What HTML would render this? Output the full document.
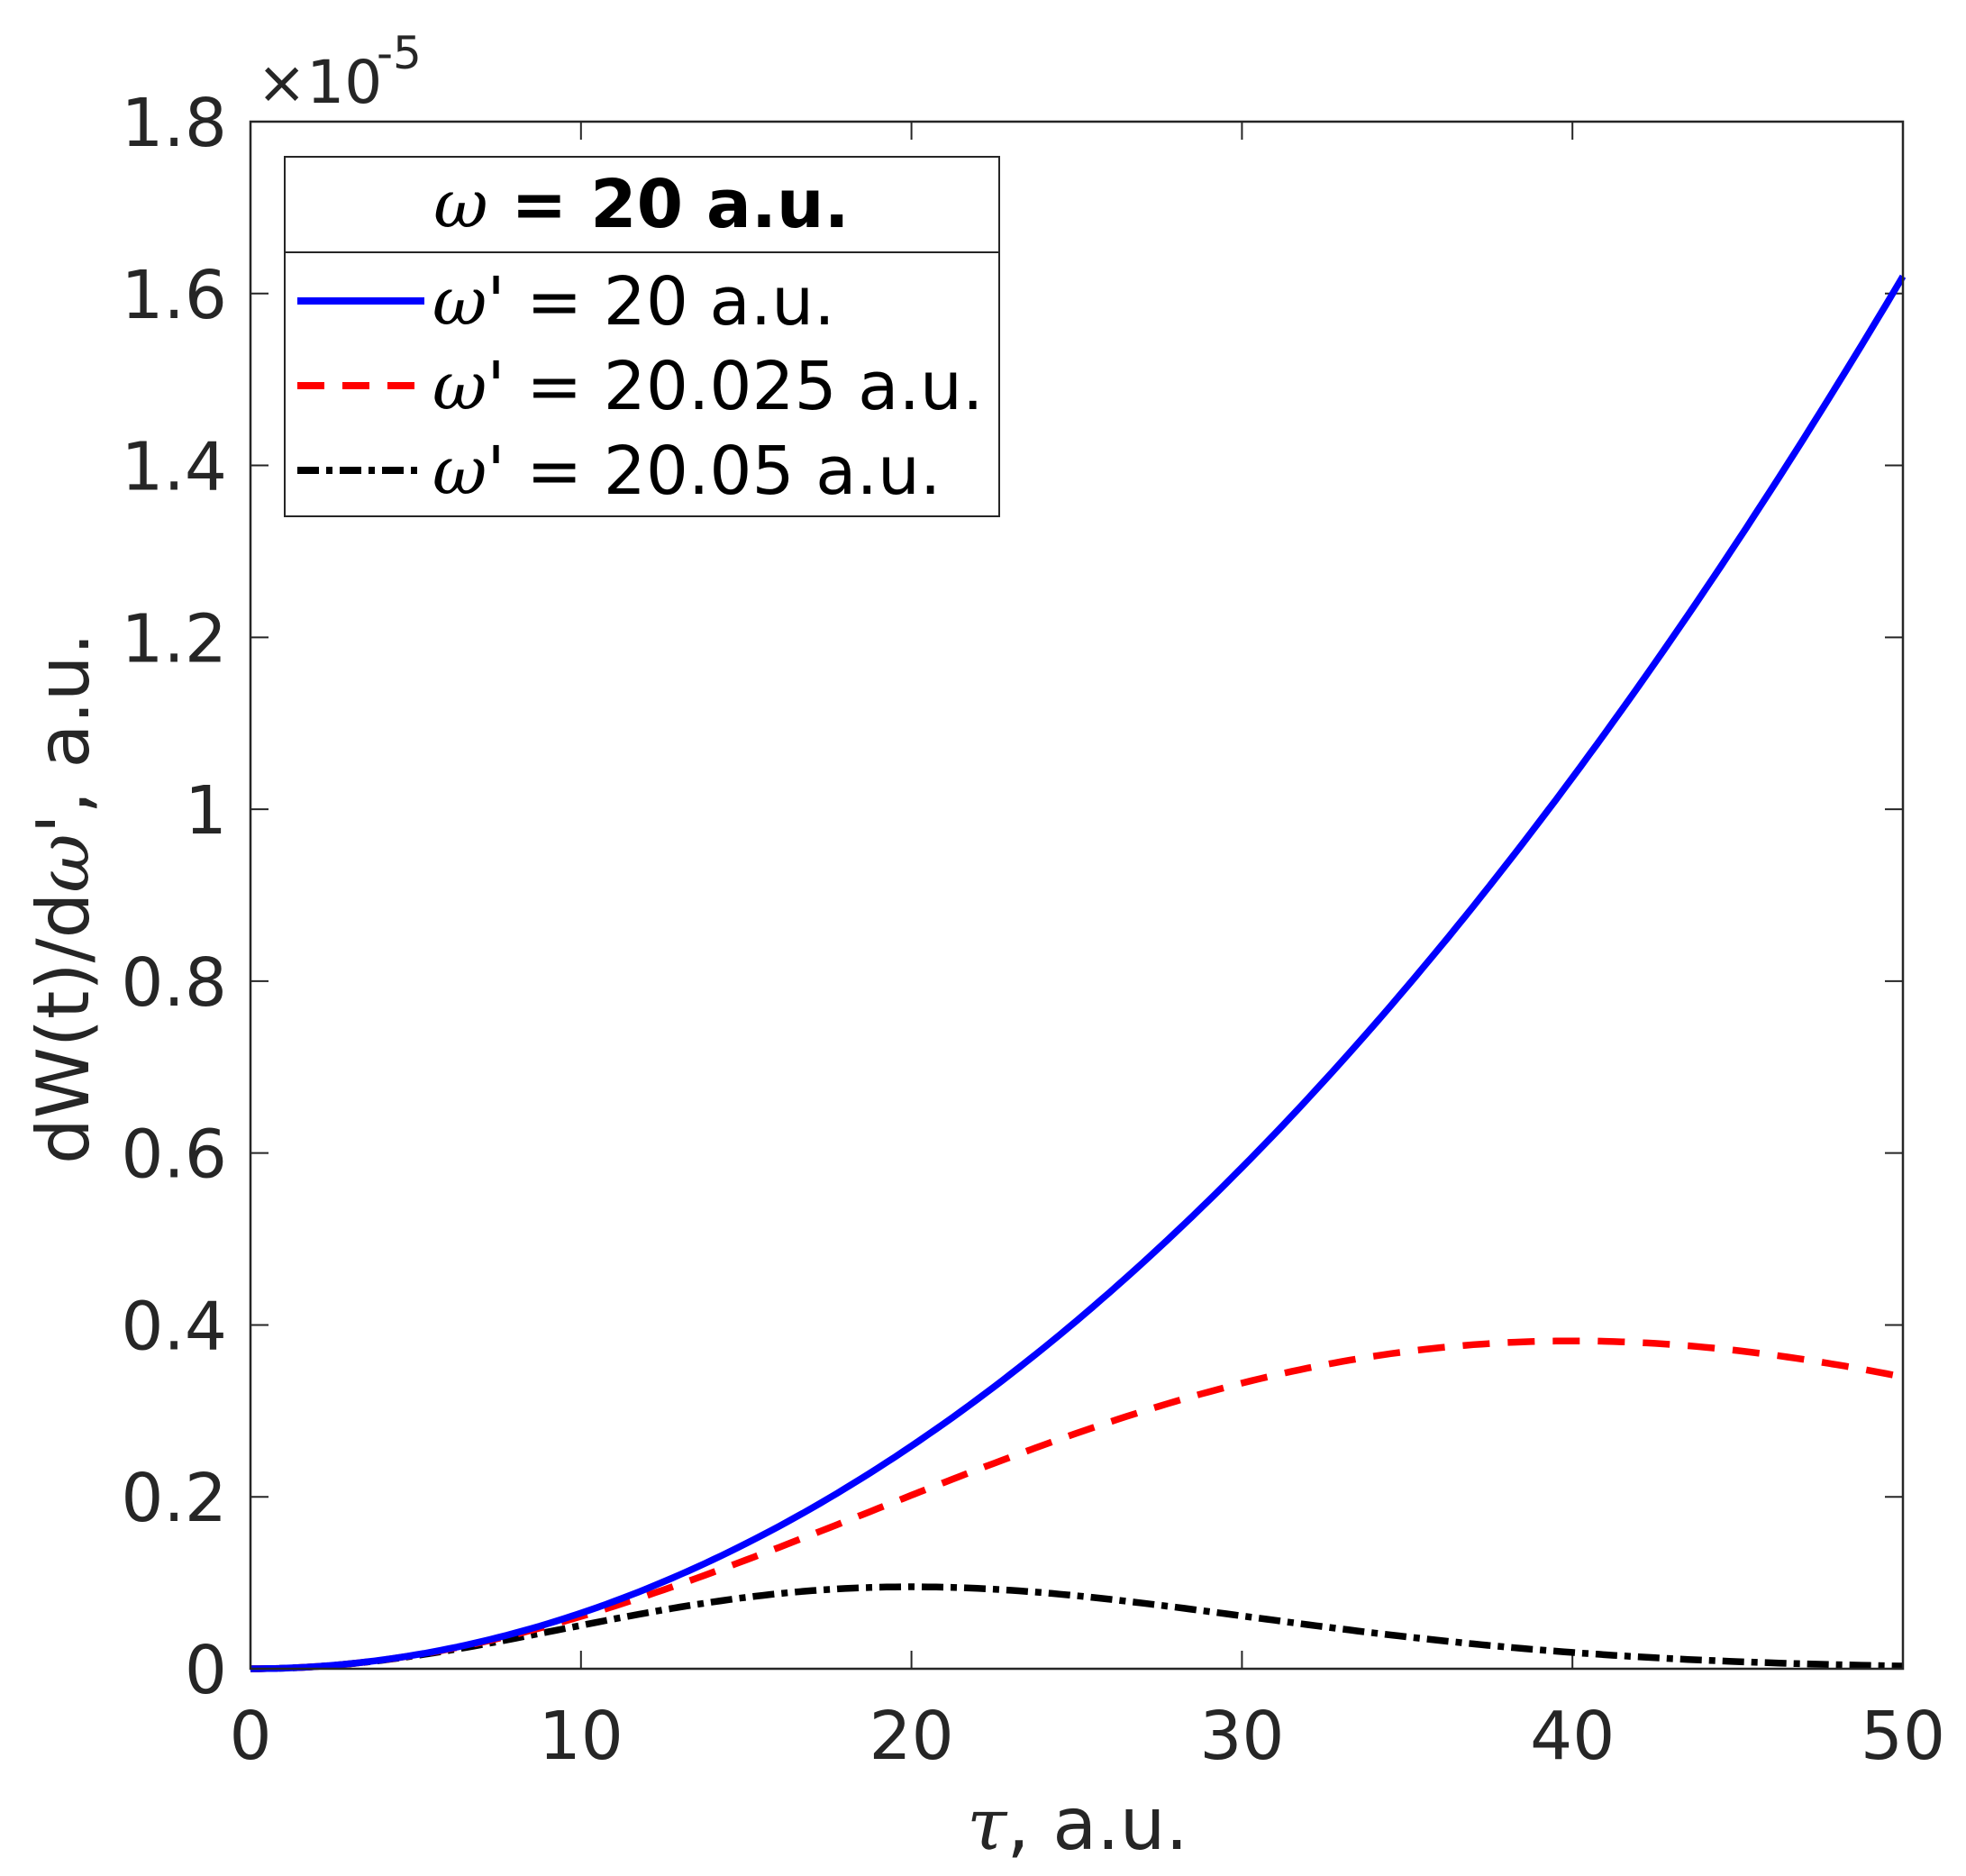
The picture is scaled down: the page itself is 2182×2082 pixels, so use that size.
<!DOCTYPE html>
<html><head><meta charset="utf-8"><style>
html,body{margin:0;padding:0;background:#fff;}
svg{display:block;font-family:"DejaVu Sans","Liberation Sans",sans-serif;}
</style></head><body>
<svg id="s" width="2182" height="2082" viewBox="0 0 2182 2082" xmlns="http://www.w3.org/2000/svg">
<rect width="2182" height="2082" fill="#fff"/>
<g id="ticks" stroke="#262626" stroke-width="2"></g>
<g id="curves" fill="none" stroke-linejoin="round"></g>
<rect x="278" y="135" width="1834" height="1717" fill="none" stroke="#262626" stroke-width="2.5"/>
<g id="labels" fill="#262626" font-size="74"></g>
<text x="285" y="114" font-size="66" fill="#262626">×10</text>
<text x="418" y="76" font-size="50" fill="#262626">-5</text>
<text x="1196" y="2052" font-size="80" fill="#262626" text-anchor="middle"><tspan font-style="italic" font-family="DejaVu Serif, serif">τ</tspan>, a.u.</text>
<text transform="translate(98,997) rotate(-90)" font-size="80" fill="#262626" text-anchor="middle">dW(t)/d<tspan font-style="italic" font-family="DejaVu Serif, serif">ω</tspan>', a.u.</text>
<!-- legend -->
<rect x="316" y="174" width="793" height="399" fill="#fff" stroke="#262626" stroke-width="2"/>
<line x1="316" y1="280" x2="1109" y2="280" stroke="#262626" stroke-width="2"/>
<text x="712" y="252" font-size="74" text-anchor="middle" fill="#000"><tspan font-style="italic" font-family="DejaVu Serif, serif">ω</tspan><tspan font-weight="bold"> = 20 a.u.</tspan></text>
<line x1="330" y1="334" x2="471" y2="334" stroke="#0000ff" stroke-width="8"/>
<line x1="330" y1="428" x2="471" y2="428" stroke="#ff0000" stroke-width="8" stroke-dasharray="30,20"/>
<line x1="330" y1="522" x2="471" y2="522" stroke="#000" stroke-width="8" stroke-dasharray="24,8,7,8"/>
<g font-size="74" fill="#000">
<text x="480" y="360"><tspan font-style="italic" font-family="DejaVu Serif, serif">ω</tspan>' = 20 a.u.</text>
<text x="480" y="454"><tspan font-style="italic" font-family="DejaVu Serif, serif">ω</tspan>' = 20.025 a.u.</text>
<text x="480" y="548"><tspan font-style="italic" font-family="DejaVu Serif, serif">ω</tspan>' = 20.05 a.u.</text>
</g>
</svg>
<script>
(function(){
var NS="http://www.w3.org/2000/svg";
var L=278,R=2112,T=135,B=1852;
function X(t){return L+(R-L)*t/50;}
function Y(v){return B-(B-T)*v/1.8;}
var tk=document.getElementById('ticks'),lb=document.getElementById('labels');
function line(p,g){var e=document.createElementNS(NS,'line');for(var k in p)e.setAttribute(k,p[k]);g.appendChild(e);}
function text(x,y,s,a){var e=document.createElementNS(NS,'text');e.setAttribute('x',x);e.setAttribute('y',y);e.setAttribute('text-anchor',a);e.textContent=s;lb.appendChild(e);}
for(var i=0;i<=5;i++){var x=X(i*10);line({x1:x,y1:B,x2:x,y2:B-20},tk);line({x1:x,y1:T,x2:x,y2:T+20},tk);text(x,1952,String(i*10),'middle');}
var yl=['0','0.2','0.4','0.6','0.8','1','1.2','1.4','1.6','1.8'];
for(var j=0;j<10;j++){var y=Y(j*0.2);line({x1:L,y1:y,x2:L+20,y2:y},tk);line({x1:R,y1:y,x2:R-20,y2:y},tk);text(252,y+27,yl[j],'end');}
var k=1.62/2500;
function path(f){var d='';for(var t=0;t<=50.0001;t+=0.25){d+=(t?'L':'M')+X(t).toFixed(1)+' '+Y(f(t)).toFixed(1);}return d;}
var c=document.getElementById('curves');
function add(d,col,da){var e=document.createElementNS(NS,'path');e.setAttribute('d',d);e.setAttribute('stroke',col);e.setAttribute('stroke-width','7.5');if(da)e.setAttribute('stroke-dasharray',da);c.appendChild(e);}
add(path(function(t){return k*t*t*Math.exp(-t*t/400);}),'#000','24,8,7,8');
add(path(function(t){return k*t*t*Math.exp(-t*t/1600);}),'#ff0000','30,20');
add(path(function(t){return k*t*t;}),'#0000ff');
})();
</script>
</body></html>
